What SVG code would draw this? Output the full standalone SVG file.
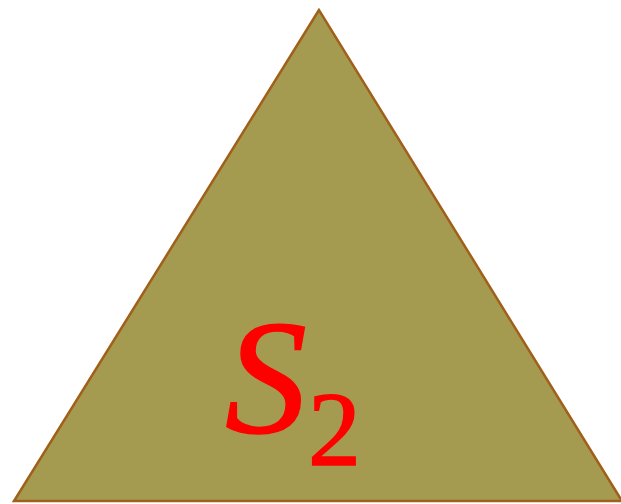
<svg xmlns="http://www.w3.org/2000/svg" width="621" height="504" viewBox="0 0 621 504">
<style>
.tri{fill:#A59B50;stroke:#A0601A;stroke-width:2.5;stroke-linejoin:miter}
.lbl{fill:#FF0000;stroke:#FF0000;stroke-width:1.5;font-family:"Liberation Serif","DejaVu Serif",serif}
</style>
<g id="triangle">
<polygon class="tri" points="319,10 14,501 622,501"/>
<text class="lbl" x="225" y="432" font-size="164" font-style="italic">S</text>
<text class="lbl" x="308" y="465" font-size="106">2</text>
</g>
</svg>
